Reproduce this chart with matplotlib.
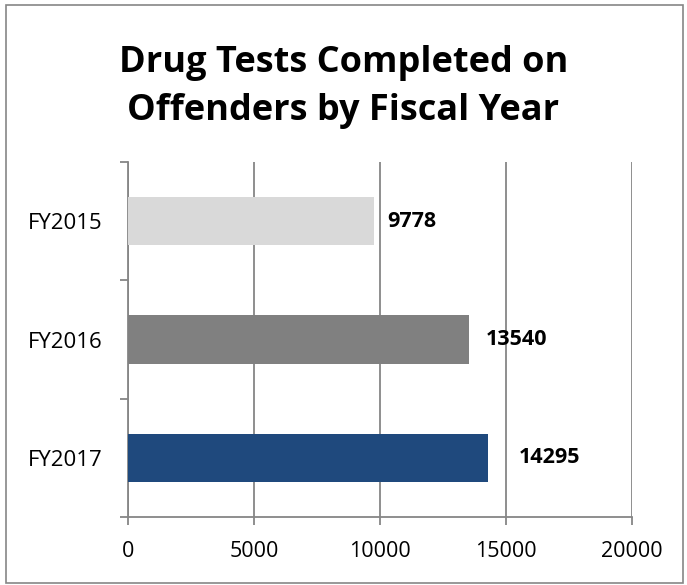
import matplotlib.pyplot as plt
from matplotlib.patches import Rectangle

# Drug tests by fiscal year
years = ["FY2015", "FY2016", "FY2017"]
tests = [9778, 13540, 14295]
bar_colors = ["#d9d9d9", "#808080", "#1f497d"]
label_offsets = [13, 17, 31]  # px gap between bar end and value label
x_ticks = [0, 5000, 10000, 15000, 20000]

plt.rcParams["font.family"] = ["Open Sans", "DejaVu Sans"]

fig = plt.figure(figsize=(6.87, 5.85), dpi=100)
ax = fig.add_axes([0.1863, 0.1162, 0.7336, 0.6069])

positions = list(range(len(years)))
ax.barh(positions, tests, height=0.41, color=bar_colors, zorder=3)

for pos, value, off in zip(positions, tests, label_offsets):
    ax.annotate(
        str(value),
        xy=(value, pos),
        xytext=(off * 0.72, 0),
        textcoords="offset points",
        va="center",
        ha="left",
        fontsize=15.5,
        fontweight="bold",
        zorder=4
    )

ax.set_xlim(0, 20000)
ax.set_ylim(2.5, -0.5)
ax.set_xticks(x_ticks)
ax.set_xticklabels([str(t) for t in x_ticks], fontsize=15.5)

# category boundaries get tick marks, names sit at centres
ax.set_yticks([-0.5, 0.5, 1.5, 2.5])
ax.set_yticklabels([])
ax.set_yticks(positions, minor=True)
ax.set_yticklabels(years, minor=True, fontsize=16)
ax.tick_params(axis="y", which="minor", length=0, pad=18)
ax.tick_params(axis="y", which="major", length=6, width=1.3, color="#868686")
ax.tick_params(axis="x", length=6, width=1.3, color="#868686", pad=11)

ax.grid(axis="x", color="#868686", linewidth=1.3, zorder=0)
for side in ["top", "right"]:
    ax.spines[side].set_visible(False)
for side in ["left", "bottom"]:
    ax.spines[side].set_color("#868686")
    ax.spines[side].set_linewidth(1.3)

fig.text(
    0.5, 1 - 87 / 585,
    "Drug Tests Completed on\nOffenders by Fiscal Year",
    ha="center",
    va="center",
    fontsize=26,
    fontweight="bold",
    linespacing=1.44
)

fig.patches.append(Rectangle(
    (6 / 687, 2 / 585), 677 / 687, 578 / 585,
    transform=fig.transFigure,
    fill=False,
    edgecolor="#868686",
    linewidth=1.2
))

fig.savefig("out.png", dpi=100)
